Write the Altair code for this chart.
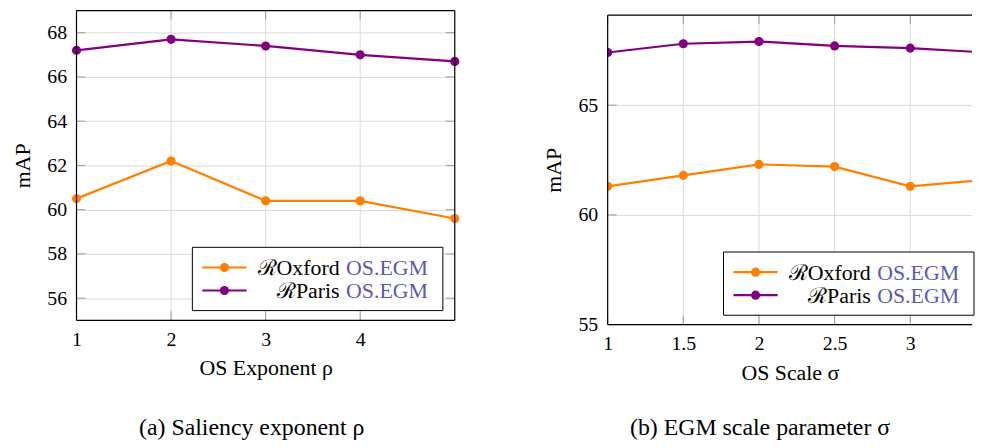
import altair as alt
import pandas as pd

# ---------------- data ----------------
rho = [1, 2, 3, 4, 5]
oxford_rho = [60.5, 62.2, 60.4, 60.4, 59.6]
paris_rho = [67.2, 67.7, 67.4, 67.0, 66.7]

sigma = [1, 1.5, 2, 2.5, 3, 3.5]
oxford_sigma = [61.3, 61.8, 62.3, 62.2, 61.3, 61.6]
paris_sigma = [67.4, 67.8, 67.9, 67.7, 67.6, 67.4]

series = ["ℛOxford", "ℛParis"]
method = "OS.EGM"

rho_ticks = [1, 2, 3, 4]
map_ticks_a = [56, 58, 60, 62, 64, 66, 68]
sigma_ticks = [1, 1.5, 2, 2.5, 3]
map_ticks_b = [55, 60, 65]

x_title_a = "OS Exponent ρ"
x_title_b = "OS Scale σ"
y_title = "mAP"
caption_a = "(a) Saliency exponent ρ"
caption_b = "(b) EGM scale parameter σ"

ORANGE = "#ff8000"
PURPLE = "#800080"
BLUE = "#5a5ab4"
GRID = "#dadada"
TICK = "#9a9a9a"
FONT = "'Liberation Serif', 'DejaVu Serif', serif"


def one():
    return alt.Chart(pd.DataFrame({"k": [0]}))


def panel(xs, oxf, par, xticks, yticks, xdom, ydom, W, H, top, xfmt,
          xtitle, caption, cap_dx, cap_offset, clip, title_y, right_frame):
    df = pd.DataFrame({
        "x": xs + xs,
        "y": oxf + par,
        "series": [series[0]] * len(xs) + [series[1]] * len(xs),
    })
    xsc = alt.Scale(domain=xdom, nice=False, zero=False)
    ysc = alt.Scale(domain=ydom, nice=False, zero=False)
    color = alt.Color("series:N", scale=alt.Scale(domain=series, range=[ORANGE, PURPLE]), legend=None)

    xaxis = alt.Axis(values=xticks, title=xtitle, grid=False, format=xfmt,
                     labelFlush=False, labelPadding=9, titlePadding=9)
    if title_y is not None:
        yaxis = alt.Axis(values=yticks, title=y_title, grid=True, format="d",
                         labelFlush=False, titleY=title_y)
    else:
        yaxis = alt.Axis(values=yticks, title=y_title, grid=True, format="d",
                         labelFlush=False)
    X = alt.X("x:Q", scale=xsc, axis=xaxis)
    Y = alt.Y("y:Q", scale=ysc, axis=yaxis)

    xt = pd.DataFrame({"x": xticks})
    yt = pd.DataFrame({"y": yticks})

    layers = []
    # vertical grid lines, from the frame top to the bottom
    layers.append(alt.Chart(xt).mark_rule(color=GRID, strokeWidth=1).encode(
        x=X, y=alt.value(top), y2=alt.value(H)))
    # inward ticks
    layers.append(alt.Chart(xt).mark_rule(color=TICK, strokeWidth=1).encode(
        x=X, y=alt.value(H - 9), y2=alt.value(H)))
    layers.append(alt.Chart(xt).mark_rule(color=TICK, strokeWidth=1).encode(
        x=X, y=alt.value(top), y2=alt.value(top + 9)))
    layers.append(alt.Chart(yt).mark_rule(color=TICK, strokeWidth=1).encode(
        y=Y, x=alt.value(0), x2=alt.value(9)))
    if right_frame:
        layers.append(alt.Chart(yt).mark_rule(color=TICK, strokeWidth=1).encode(
            y=Y, x=alt.value(W - 9), x2=alt.value(W)))

    base = alt.Chart(df).encode(x=X, y=Y, color=color, detail="series:N")
    layers.append(base.mark_line(strokeWidth=2.2, clip=clip))
    layers.append(base.mark_circle(size=85, opacity=1, clip=clip))

    # legend
    bx0, bx1 = 116.7, 369
    by0, by1 = top + 238.5, top + 302.2
    rows = [top + 258.8, top + 282.0]
    layers.append(one().mark_rect(fill="white", stroke="black", strokeWidth=1).encode(
        x=alt.value(bx0), x2=alt.value(bx1), y=alt.value(by0), y2=alt.value(by1)))
    for name, col, ry in zip(series, [ORANGE, PURPLE], rows):
        layers.append(one().mark_rule(strokeWidth=2.2).encode(
            x=alt.value(126.7), x2=alt.value(171.3), y=alt.value(ry), color=alt.value(col)))
        layers.append(one().mark_circle(size=85, opacity=1).encode(
            x=alt.value(149), y=alt.value(ry), color=alt.value(col)))
        layers.append(one().mark_text(align="right", baseline="middle", font=FONT,
                                      fontSize=22, color="black").encode(
            x=alt.value(265), y=alt.value(ry + 1), text=alt.value(name)))
        layers.append(one().mark_text(align="left", baseline="middle", font=FONT,
                                      fontSize=22, color=BLUE).encode(
            x=alt.value(271.5), y=alt.value(ry + 1), text=alt.value(method)))

    # frame
    layers.append(one().mark_rule(color="black", strokeWidth=1.2).encode(
        x=alt.value(0), x2=alt.value(W), y=alt.value(top)))
    layers.append(one().mark_rule(color="black", strokeWidth=1.2).encode(
        x=alt.value(0), x2=alt.value(W), y=alt.value(H)))
    layers.append(one().mark_rule(color="black", strokeWidth=1.2).encode(
        x=alt.value(0), y=alt.value(top), y2=alt.value(H)))
    if right_frame:
        layers.append(one().mark_rule(color="black", strokeWidth=1.2).encode(
            x=alt.value(W), y=alt.value(top), y2=alt.value(H)))

    return alt.layer(*layers).properties(
        width=W, height=H,
        title=alt.TitleParams(caption, orient="bottom", anchor="middle", dx=cap_dx,
                              offset=cap_offset, font=FONT, fontSize=24,
                              fontWeight="normal", color="black"),
    )


H_a = 312
left = panel(rho, oxford_rho, paris_rho, rho_ticks, map_ticks_a, [1, 5], [55, 69],
             381, H_a, 0, "d", x_title_a, caption_a, -14, 38, False, None, True)

# right panel: the reference is cut at the window edge, near sigma = 3.39
W_b = 367
x_right_b = 1 + W_b / 152.4
H_b = 316.3
top_b = 4.7
ydom_b = [55, 55 + H_b / 22.1]
right = panel(sigma, oxford_sigma, paris_sigma, sigma_ticks, map_ticks_b, [1, x_right_b], ydom_b,
              W_b, H_b, top_b, "~g", x_title_b, caption_b, -36.5 + (380 - W_b) / 2, 33, True,
              (top_b + H_b) / 2, False)

chart = alt.hconcat(left, right, spacing=84).properties(
    padding={"left": 4, "top": 0, "right": 0, "bottom": 0}
).configure_view(stroke=None).configure_axis(
    labelFont=FONT, titleFont=FONT, labelFontSize=20, titleFontSize=22,
    titleFontWeight="normal", labelColor="black", titleColor="black",
    ticks=False, tickSize=0, domain=False, gridColor=GRID, gridWidth=1,
    labelPadding=10, titlePadding=12,
)

chart.save("out.html", embed_options={"renderer": "svg", "actions": False})
